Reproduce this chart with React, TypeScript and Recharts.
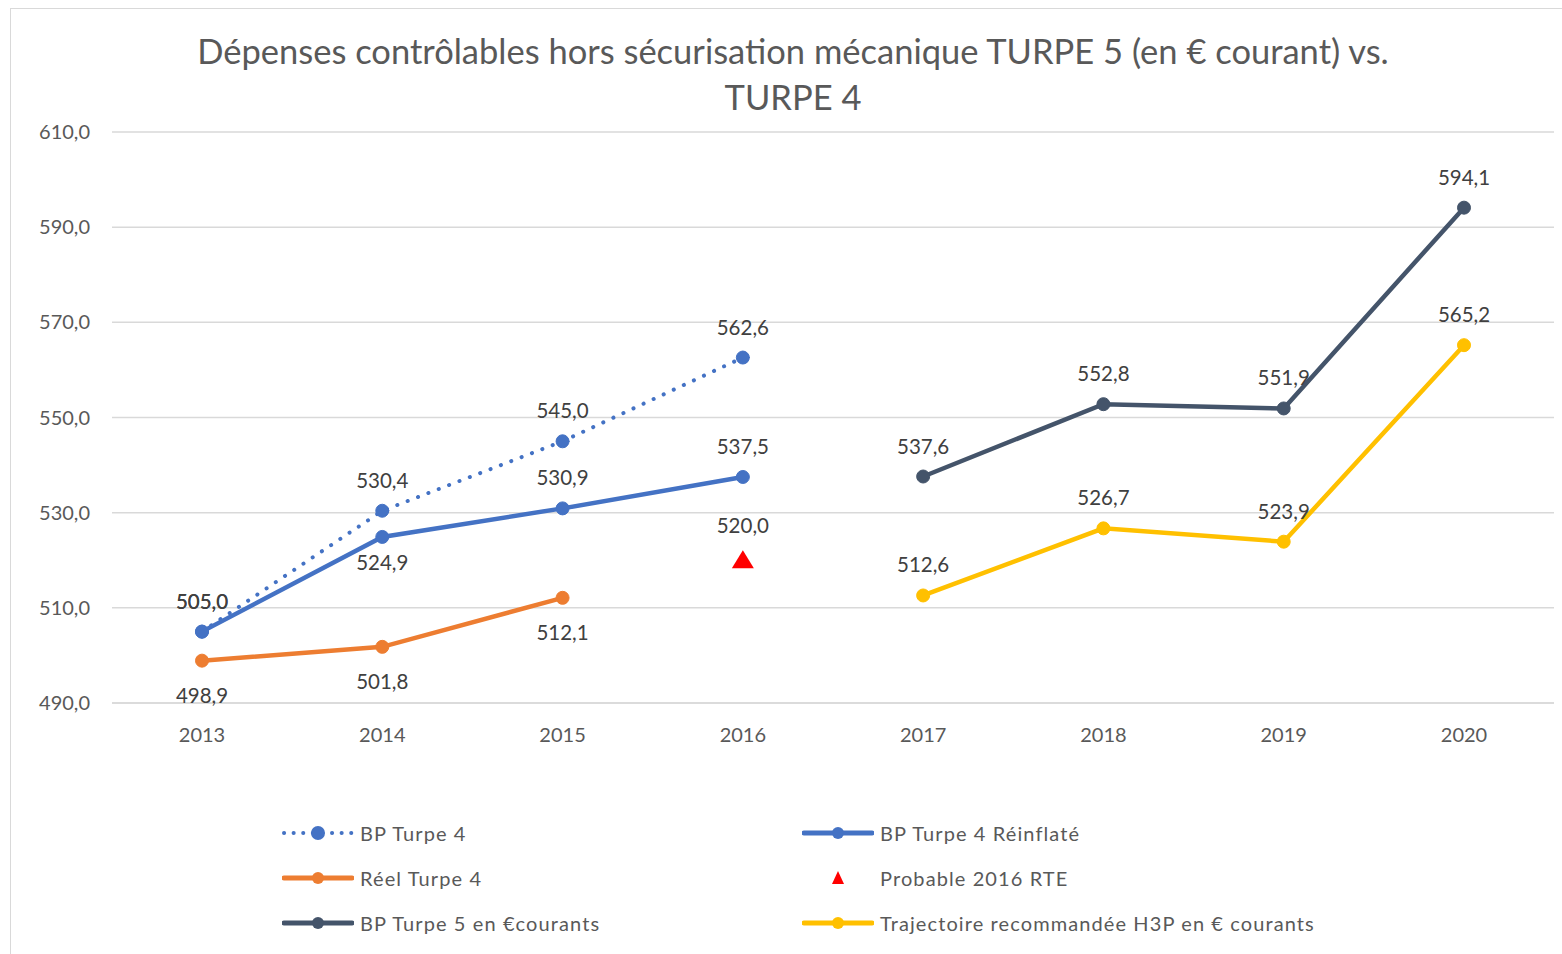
import React from 'react';
import { LineChart, Line, XAxis, YAxis, CartesianGrid, LabelList } from 'recharts';

const years = ['2013', '2014', '2015', '2016', '2017', '2018', '2019', '2020'];
const bpTurpe4 = [505.0, 530.4, 545.0, 562.6, null, null, null, null];
const bpTurpe4Reinflate = [505.0, 524.9, 530.9, 537.5, null, null, null, null];
const reelTurpe4 = [498.9, 501.8, 512.1, null, null, null, null, null];
const probable2016 = [null, null, null, 520.0, null, null, null, null];
const bpTurpe5 = [null, null, null, null, 537.6, 552.8, 551.9, 594.1];
const h3p = [null, null, null, null, 512.6, 526.7, 523.9, 565.2];
const yTicks = [490, 510, 530, 550, 570, 590, 610];

const data = years.map((year, i) => ({
  year,
  bp4: bpTurpe4[i],
  bp4r: bpTurpe4Reinflate[i],
  reel: reelTurpe4[i],
  prob: probable2016[i],
  bp5: bpTurpe5[i],
  h3p: h3p[i],
}));

const FONT = 'Lato, "Open Sans", sans-serif';
const fmt = (v: any) => (v == null ? '' : Number(v).toFixed(1).replace('.', ','));
const labelStyle = { fill: '#404040', fontSize: 20.5, fontFamily: FONT };

const Triangle = (props: any) => {
  const { cx, cy, value } = props;
  if (value == null || cx == null || cy == null) return null;
  return <path d={`M${cx},${cy - 10} L${cx + 11},${cy + 8} L${cx - 11},${cy + 8} Z`} fill="#FF0000" />;
};

// Reinflaté: 2014 label below, others above
const ReinflateLabel = (props: any) => {
  const { x, y, value, index } = props;
  if (value == null) return null;
  const below = index === 1;
  return (
    <text x={x} y={below ? y + 33 : y - 23} textAnchor="middle" {...labelStyle}>
      {fmt(value)}
    </text>
  );
};

const legendItems = [
  { name: 'BP Turpe 4', color: '#4472C4', kind: 'dotted' },
  { name: 'BP Turpe 4 Réinflaté', color: '#4472C4', kind: 'line' },
  { name: 'Réel Turpe 4', color: '#ED7D31', kind: 'line' },
  { name: 'Probable 2016 RTE', color: '#FF0000', kind: 'triangle' },
  { name: 'BP Turpe 5 en €courants', color: '#44546A', kind: 'line' },
  { name: 'Trajectoire recommandée H3P en € courants', color: '#FFC000', kind: 'line' },
];

const LegendIcon = ({ color, kind }: { color: string; kind: string }) => (
  <svg width={72} height={20} style={{ marginRight: 6 }}>
    {kind === 'line' && (
      <>
        <line x1={2} y1={10} x2={70} y2={10} stroke={color} strokeWidth={5} strokeLinecap="round" />
        <circle cx={36} cy={10} r={6} fill={color} />
      </>
    )}
    {kind === 'dotted' && (
      <>
        <line x1={2} y1={10} x2={70} y2={10} stroke={color} strokeWidth={4} strokeLinecap="round" strokeDasharray="0.1 9.5" />
        <circle cx={36} cy={10} r={7} fill={color} />
      </>
    )}
    {kind === 'triangle' && <path d="M36,3 L42,16 L30,16 Z" fill={color} />}
  </svg>
);

export default function App() {
  return (
    <div style={{ position: 'absolute', left: 0, top: 0, width: 1562, height: 954, background: '#fff', overflow: 'hidden' }}>
      <div style={{ position: 'absolute', left: 10, top: 8, width: 1600, height: 1000, border: '1px solid #d9d9d9' }} />
      <div
        style={{
          position: 'absolute',
          left: 0,
          width: 1586,
          top: 28,
          textAlign: 'center',
          fontFamily: FONT,
          fontSize: 34.5,
          lineHeight: '46px',
          color: '#595959',
        }}
      >
        Dépenses contrôlables hors sécurisation mécanique TURPE 5 (en € courant) vs.
        <br />
        TURPE 4
      </div>
      <div style={{ position: 'absolute', left: 0, top: 0 }}>
        <LineChart width={1562} height={954} data={data} margin={{ top: 132, right: 8, bottom: 221, left: 0 }}>
          <CartesianGrid vertical={false} stroke="#d9d9d9" strokeWidth={1.5} />
          <XAxis
            dataKey="year"
            padding={{ left: 90, right: 90 }}
            tickLine={false}
            tickSize={0}
            tickMargin={25}
            axisLine={{ stroke: '#d9d9d9', strokeWidth: 1.5 }}
            tick={{ fill: '#595959', fontSize: 20, fontFamily: FONT }}
            height={30}
          />
          <YAxis
            domain={[490, 610]}
            ticks={yTicks}
            width={112}
            axisLine={false}
            tickLine={false}
            tickSize={0}
            tickMargin={22}
            tickFormatter={fmt}
            tick={{ fill: '#595959', fontSize: 20, fontFamily: FONT }}
          />
          <Line
            dataKey="bp4"
            stroke="#4472C4"
            strokeWidth={4}
            strokeLinecap="round"
            strokeDasharray="0.1 11"
            dot={{ r: 6.5, fill: '#4472C4', stroke: '#4472C4', strokeWidth: 1, strokeDasharray: '' }}
            isAnimationActive={false}
          >
            <LabelList dataKey="bp4" position="top" offset={23} formatter={fmt} style={labelStyle} />
          </Line>
          <Line
            dataKey="bp4r"
            stroke="#4472C4"
            strokeWidth={4.5}
            dot={{ r: 6.5, fill: '#4472C4', stroke: '#4472C4', strokeWidth: 1 }}
            isAnimationActive={false}
          >
            <LabelList dataKey="bp4r" content={<ReinflateLabel />} />
          </Line>
          <Line
            dataKey="reel"
            stroke="#ED7D31"
            strokeWidth={4.5}
            dot={{ r: 6.5, fill: '#ED7D31', stroke: '#ED7D31', strokeWidth: 1 }}
            isAnimationActive={false}
          >
            <LabelList dataKey="reel" position="bottom" offset={28} formatter={fmt} style={labelStyle} />
          </Line>
          <Line dataKey="prob" stroke="none" dot={<Triangle />} activeDot={false} isAnimationActive={false}>
            <LabelList dataKey="prob" position="top" offset={27} formatter={fmt} style={labelStyle} />
          </Line>
          <Line
            dataKey="bp5"
            stroke="#44546A"
            strokeWidth={4.5}
            dot={{ r: 6.5, fill: '#44546A', stroke: '#44546A', strokeWidth: 1 }}
            isAnimationActive={false}
          >
            <LabelList dataKey="bp5" position="top" offset={23} formatter={fmt} style={labelStyle} />
          </Line>
          <Line
            dataKey="h3p"
            stroke="#FFC000"
            strokeWidth={4.5}
            dot={{ r: 6.5, fill: '#FFC000', stroke: '#FFC000', strokeWidth: 1 }}
            isAnimationActive={false}
          >
            <LabelList dataKey="h3p" position="top" offset={23} formatter={fmt} style={labelStyle} />
          </Line>
        </LineChart>
      </div>
      {legendItems.map((item, i) => {
        const col = i % 2;
        const row = Math.floor(i / 2);
        return (
          <div
            key={item.name}
            style={{
              position: 'absolute',
              left: col === 0 ? 282 : 802,
              top: 821 + row * 45,
              height: 24,
              display: 'flex',
              alignItems: 'center',
              fontFamily: FONT,
              fontSize: 20,
              letterSpacing: 1.1,
              color: '#595959',
              whiteSpace: 'nowrap',
            }}
          >
            <LegendIcon color={item.color} kind={item.kind} />
            <span>{item.name}</span>
          </div>
        );
      })}
    </div>
  );
}
